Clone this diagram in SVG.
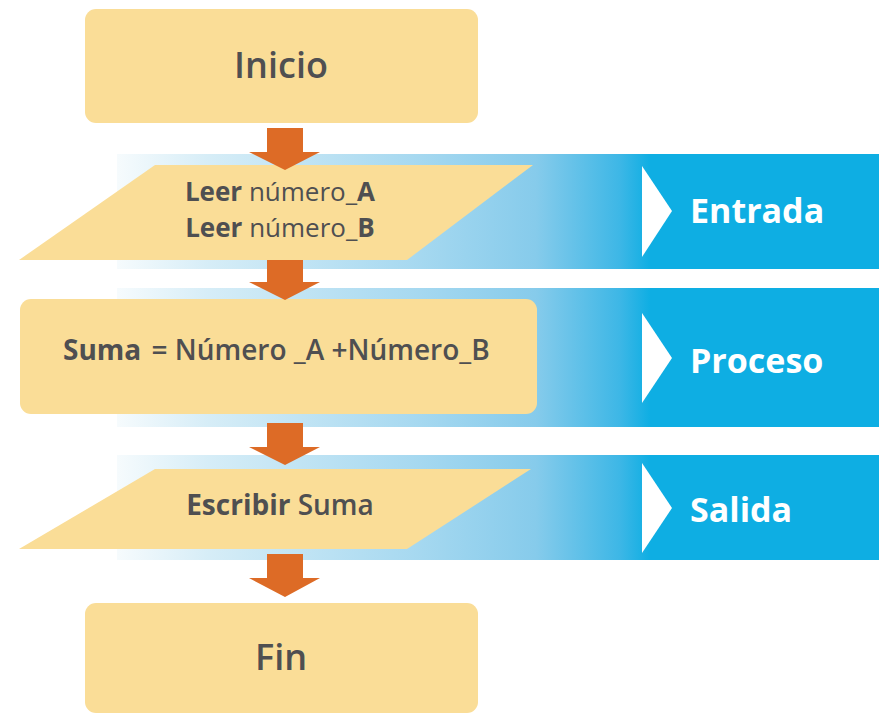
<svg xmlns="http://www.w3.org/2000/svg" width="879" height="715" viewBox="0 0 879 715">
  <defs>
    <linearGradient id="bandGrad" gradientUnits="userSpaceOnUse" x1="117" y1="0" x2="879" y2="0">
      <stop offset="0" stop-color="#f6fbfd"/>
      <stop offset="0.12" stop-color="#d6edf7"/>
      <stop offset="0.40" stop-color="#a5d8f0"/>
      <stop offset="0.55" stop-color="#86cbeb"/>
      <stop offset="0.66" stop-color="#3db7e6"/>
      <stop offset="0.70" stop-color="#0eaee3"/>
      <stop offset="1" stop-color="#0eaee3"/>
    </linearGradient>
    <style>
      .box { fill: #fadd97; }
      .band { fill: url(#bandGrad); }
      .arrow { fill: #dd6b26; }
      .tri { fill: #ffffff; }
      .t { font-family: "Open Sans", "Noto Sans", "DejaVu Sans", sans-serif; fill: #4f4f51; }
      .b { font-weight: 700; }
      .sb { font-weight: 600; }
      .r { font-weight: 400; }
      .lab { font-family: "Open Sans", "Noto Sans", "DejaVu Sans", sans-serif; font-weight: 700; fill: #ffffff; font-size: 34px; }
    </style>
  </defs>

  <g id="bands">
    <rect class="band" x="117" y="154" width="762" height="115"/>
    <rect class="band" x="117" y="288" width="762" height="139"/>
    <rect class="band" x="117" y="455" width="762" height="105"/>
  </g>

  <g id="label-entrada">
    <polygon class="tri" points="642,166 672,211 642,257"/>
    <text class="lab" x="690" y="223">Entrada</text>
  </g>
  <g id="label-proceso">
    <polygon class="tri" points="642,313 672,358 642,403"/>
    <text class="lab" x="690" y="373">Proceso</text>
  </g>
  <g id="label-salida">
    <polygon class="tri" points="642,463 672,508 642,553"/>
    <text class="lab" x="690" y="522">Salida</text>
  </g>

  <g id="inicio">
    <rect class="box" x="85" y="9" width="393" height="114" rx="11"/>
    <text class="t sb" x="281" y="78" font-size="36" text-anchor="middle">Inicio</text>
  </g>

  <g id="entrada">
    <polygon class="box" points="155,165 533,165 407,260 19,260"/>
    <text class="t" x="280" y="201" font-size="26" text-anchor="middle"><tspan class="b">Leer</tspan><tspan class="r"> número_</tspan><tspan class="b">A</tspan></text>
    <text class="t" x="280" y="237" font-size="26" text-anchor="middle"><tspan class="b">Leer</tspan><tspan class="r"> número_</tspan><tspan class="b">B</tspan></text>
  </g>

  <g id="proceso">
    <rect class="box" x="20" y="299" width="517" height="115" rx="11"/>
    <text class="t" x="63" y="360" font-size="28"><tspan class="b">Suma</tspan><tspan class="sb" dx="3"> = Número _A +Número_B</tspan></text>
  </g>

  <g id="salida">
    <polygon class="box" points="155,469 531,469 407,549 19,549"/>
    <text class="t" x="280" y="515" font-size="28" text-anchor="middle"><tspan class="b">Escribir</tspan><tspan class="sb"> Suma</tspan></text>
  </g>

  <g id="fin">
    <rect class="box" x="85" y="603" width="393" height="110" rx="11"/>
    <text class="t sb" x="281" y="670" font-size="36" text-anchor="middle">Fin</text>
  </g>

  <g id="connectors">
    <polygon class="arrow" points="267,128 303,128 303,152 320,152 285,170 249,152 267,152"/>
    <polygon class="arrow" points="267,260 303,260 303,282 320,282 285,300 249,282 267,282"/>
    <polygon class="arrow" points="267,423 303,423 303,447 320,447 285,465 249,447 267,447"/>
    <polygon class="arrow" points="267,554 303,554 303,578 320,578 285,597 249,578 267,578"/>
  </g>
</svg>
